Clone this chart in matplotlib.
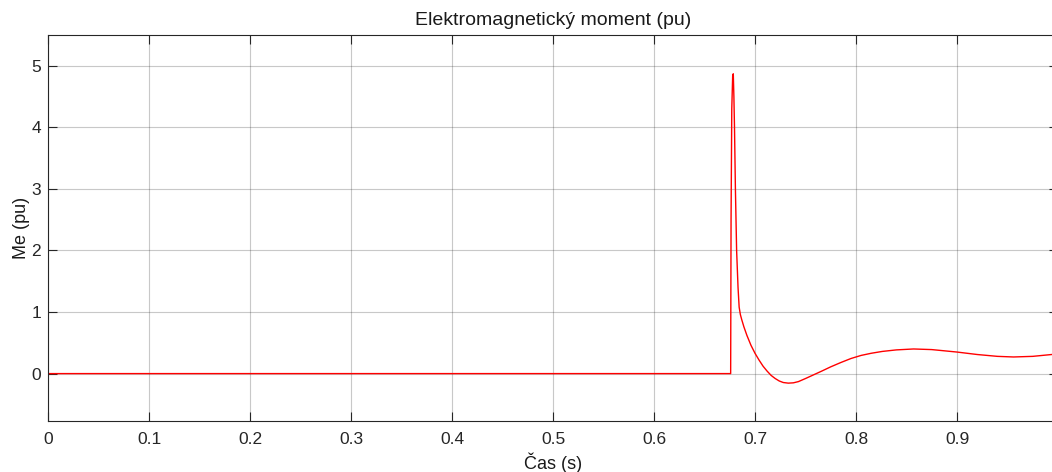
import matplotlib.pyplot as plt

plt.rcParams['font.family'] = ['Liberation Sans', 'DejaVu Sans']

# Electromagnetic torque response (pu) over time (s)
t = [0.0, 0.6759, 0.6763, 0.6770, 0.6779, 0.6785, 0.6791, 0.6797, 0.6806,
     0.6818, 0.6832, 0.6843, 0.6855, 0.6868, 0.689, 0.692, 0.696, 0.700,
     0.704, 0.708, 0.712, 0.716, 0.720, 0.724, 0.728, 0.733, 0.738, 0.743,
     0.750, 0.758, 0.766, 0.775, 0.785, 0.795, 0.805, 0.815, 0.826, 0.840,
     0.857, 0.875, 0.900, 0.920, 0.940, 0.956, 0.975, 1.0]
me = [0.0, 0.0, 2.5, 4.3, 4.84, 4.87, 4.5, 4.0, 3.0,
      2.0, 1.4, 1.08, 0.96, 0.88, 0.76, 0.62, 0.46, 0.33,
      0.22, 0.12, 0.04, -0.03, -0.08, -0.12, -0.145, -0.155, -0.15, -0.13,
      -0.08, -0.02, 0.04, 0.11, 0.18, 0.245, 0.295, 0.33, 0.36, 0.385,
      0.40, 0.39, 0.35, 0.31, 0.28, 0.27, 0.28, 0.32]

x_ticks = [0, 0.1, 0.2, 0.3, 0.4, 0.5, 0.6, 0.7, 0.8, 0.9]
x_labels = ['0', '0.1', '0.2', '0.3', '0.4', '0.5', '0.6', '0.7', '0.8', '0.9']
y_ticks = [0, 1, 2, 3, 4, 5]

W, H = 1052, 472
fig = plt.figure(figsize=(W / 100, H / 100), dpi=100)
ax = fig.add_axes([48 / W, 1 - 421 / H, 1010 / W, 386 / H])

ax.plot(t, me, color='#ff0000', lw=1.0)

ax.set_xlim(0, 1.0)
ax.set_ylim(-0.77, 5.5)
ax.set_xticks(x_ticks)
ax.set_xticklabels(x_labels)
ax.set_yticks(y_ticks)

ax.grid(True, color='#262626', alpha=0.25, lw=0.8)
ax.tick_params(direction='in', length=6.5, width=0.8, labelsize=12.5,
               top=True, right=True, colors='#262626')
ax.tick_params(axis='x', pad=8)
ax.tick_params(axis='y', pad=5)
for s in ax.spines.values():
    s.set_color('#262626')
    s.set_linewidth(0.8)

ax.set_title('Elektromagnetický moment (pu)', fontsize=14, pad=7, color='#1a1a1a')
ax.set_xlabel('Čas (s)', fontsize=13, labelpad=4, color='#1a1a1a')
ax.set_ylabel('Me (pu)', fontsize=13, labelpad=1, color='#1a1a1a')

fig.savefig('out.png', dpi=100)
